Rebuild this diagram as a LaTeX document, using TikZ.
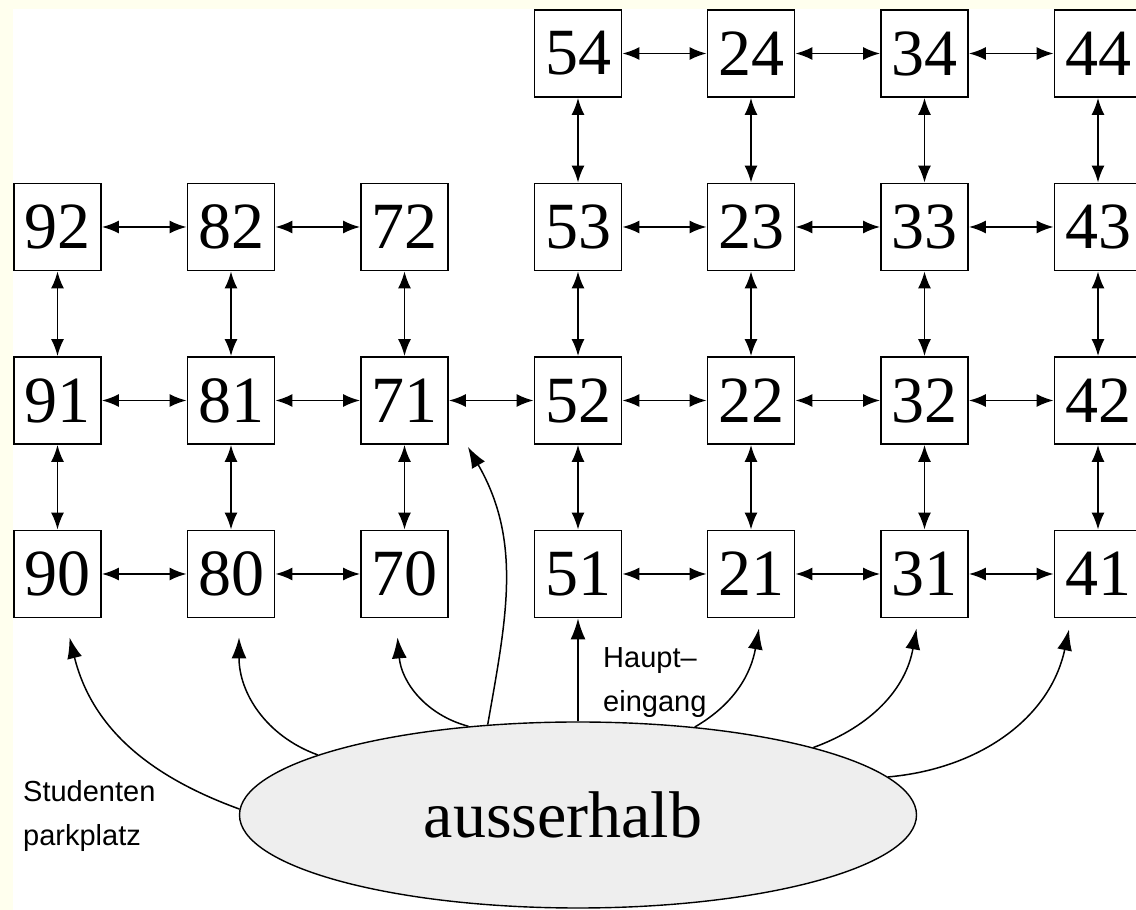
\documentclass[tikz,border=0pt]{standalone}
\usepackage{fontspec}
\setmainfont{Liberation Serif}
\newfontfamily\labelfont{Liberation Sans}
\usetikzlibrary{arrows.meta, shapes.geometric}
\definecolor{paper}{RGB}{255,255,238}
\definecolor{cloud}{RGB}{238,238,238}
\tikzset{
	room/.style={draw, line width=1.8pt, minimum size=87pt, inner sep=0pt, font=\fontsize{66}{66}\selectfont},
	link/.style={line width=1.8pt, {Latex[length=17pt,width=13pt]}-{Latex[length=17pt,width=13pt]}},
	entry/.style={line width=1.5pt, -{Latex[length=21pt,width=15pt]}},
	note/.style={font=\labelfont\fontsize{29}{44}\selectfont, align=left, inner sep=0pt, anchor=west}
}

\begin{document}
\begin{tikzpicture}[x=1pt, y=1pt]
	\fill[paper] (0,0) rectangle (1136,910);
	\useasboundingbox (0,0) rectangle (1136,910);
	\clip (0,0) rectangle (1136,910);
	\fill[white] (13,0) rectangle (1136,901);
	\node[room] (n54) at (578,856.5) {54};
	\node[room] (n24) at (751,856.5) {24};
	\node[room] (n34) at (924.5,856.5) {34};
	\node[room] (n44) at (1098,856.5) {44};
	\node[room] (n92) at (57.5,683) {92};
	\node[room] (n82) at (231,683) {82};
	\node[room] (n72) at (404.5,683) {72};
	\node[room] (n53) at (578,683) {53};
	\node[room] (n23) at (751,683) {23};
	\node[room] (n33) at (924.5,683) {33};
	\node[room] (n43) at (1098,683) {43};
	\node[room] (n91) at (57.5,509.5) {91};
	\node[room] (n81) at (231,509.5) {81};
	\node[room] (n71) at (404.5,509.5) {71};
	\node[room] (n52) at (578,509.5) {52};
	\node[room] (n22) at (751,509.5) {22};
	\node[room] (n32) at (924.5,509.5) {32};
	\node[room] (n42) at (1098,509.5) {42};
	\node[room] (n90) at (57.5,336) {90};
	\node[room] (n80) at (231,336) {80};
	\node[room] (n70) at (404.5,336) {70};
	\node[room] (n51) at (578,336) {51};
	\node[room] (n21) at (751,336) {21};
	\node[room] (n31) at (924.5,336) {31};
	\node[room] (n41) at (1098,336) {41};
	\draw[link] (n54)--(n24);
	\draw[link] (n24)--(n34);
	\draw[link] (n34)--(n44);
	\draw[link] (n92)--(n82);
	\draw[link] (n82)--(n72);
	\draw[link] (n53)--(n23);
	\draw[link] (n23)--(n33);
	\draw[link] (n33)--(n43);
	\draw[link] (n91)--(n81);
	\draw[link] (n81)--(n71);
	\draw[link] (n71)--(n52);
	\draw[link] (n52)--(n22);
	\draw[link] (n22)--(n32);
	\draw[link] (n32)--(n42);
	\draw[link] (n90)--(n80);
	\draw[link] (n80)--(n70);
	\draw[link] (n51)--(n21);
	\draw[link] (n21)--(n31);
	\draw[link] (n31)--(n41);
	\draw[link] (n54)--(n53);
	\draw[link] (n24)--(n23);
	\draw[link] (n34)--(n33);
	\draw[link] (n44)--(n43);
	\draw[link] (n92)--(n91);
	\draw[link] (n82)--(n81);
	\draw[link] (n72)--(n71);
	\draw[link] (n53)--(n52);
	\draw[link] (n23)--(n22);
	\draw[link] (n33)--(n32);
	\draw[link] (n43)--(n42);
	\draw[link] (n91)--(n90);
	\draw[link] (n81)--(n80);
	\draw[link] (n71)--(n70);
	\draw[link] (n52)--(n51);
	\draw[link] (n22)--(n21);
	\draw[link] (n32)--(n31);
	\draw[link] (n42)--(n41);
	\node[ellipse, draw, fill=cloud, line width=1.4pt, minimum width=677pt, minimum height=186pt, inner sep=0pt, font=\fontsize{66}{66}\selectfont] (aus) at (578,95) {ausserhalb\hspace*{30pt}};
	\draw[entry] (aus.179) to[out=160, in=-76] ([xshift=12, yshift=-19]n90.south);
	\draw[entry] (aus.167) to[out=160, in=-90] ([xshift=8, yshift=-19]n80.south);
	\draw[entry] (aus.141) to[out=165, in=-85] ([xshift=-7, yshift=-19]n70.south);
	\draw[entry] (aus.135) to[out=80, in=-60] ([xshift=19, yshift=-2]n71.south east);
	\draw[entry] (aus) -- (n51);
	\draw[entry] (aus.37) to[out=30, in=-100] ([xshift=8, yshift=-10]n21.south);
	\draw[entry] (aus.16) to[out=20, in=-100] ([xshift=-8, yshift=-10]n31.south);
	\draw[entry] (aus.7) to[out=5, in=-102] ([xshift=-29, yshift=-11]n41.south);
	\node[note] (stud) at (23,94) {Studenten\\parkplatz};
	\node[note] (haupt) at (603,227.5) {Haupt\textendash\\eingang};
\end{tikzpicture}
\end{document}
